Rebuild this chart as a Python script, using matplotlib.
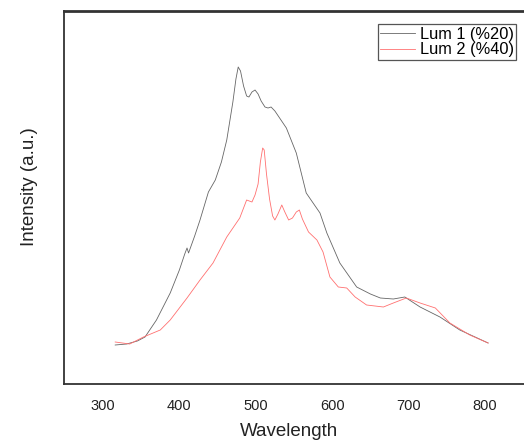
import matplotlib; matplotlib.use("Agg"); import matplotlib.pyplot as plt

# emission spectra (intensity in arbitrary units)
wl_1 = [316, 331, 345, 355, 370, 388, 400, 407, 410, 412, 420, 427, 438, 447,
        455, 462, 470, 474, 477, 480, 484, 488, 491, 495, 499, 503, 507, 512,
        516, 520, 525, 540, 553, 566, 575, 584, 593, 610, 632, 650, 663, 680,
        695, 715, 741, 767, 804]
int_1 = [39, 40, 43, 47, 64, 91, 114, 130, 136, 131, 148, 164, 192, 204,
         222, 244, 282, 305, 317, 313, 298, 288, 287, 292, 294, 290, 283, 277,
         276, 277, 273, 256, 231, 191, 181, 171, 151, 121, 97, 90, 86, 85,
         87, 77, 67, 54, 41]

wl_2 = [316, 335, 353, 375, 388, 400, 410, 427, 444, 462, 479, 488, 495, 499,
        503, 506, 509, 511, 514, 518, 522, 525, 529, 534, 538, 543, 548, 553,
        557, 561, 569, 580, 588, 597, 608, 619, 630, 645, 667, 680, 697, 715,
        735, 754, 780, 804]
int_2 = [42, 40, 47, 54, 64, 76, 86, 104, 121, 147, 166, 184, 182, 189,
         200, 222, 236, 234, 210, 185, 168, 164, 170, 179, 172, 164, 166, 172,
         174, 165, 152, 144, 132, 107, 97, 96, 87, 79, 77, 81, 86, 81,
         76, 61, 49, 41]

fig = plt.figure(figsize=(5.24, 4.44), dpi=100)
plt.rcParams['font.family'] = ['Liberation Sans', 'DejaVu Sans']
ax = fig.add_axes([64 / 524, 60 / 444, 460 / 524, 373 / 444])

ax.plot(wl_1, int_1, color="#666666", lw=0.6, label="Lum 1 (%20)")
ax.plot(wl_2, int_2, color="#ff7070", lw=0.6, label="Lum 2 (%40)")

ax.set_xlim(249, 851)
ax.set_ylim(0, 373)
ax.set_xticks([300, 400, 500, 600, 700, 800])
ax.set_yticks([])
ax.tick_params(axis="x", length=0, pad=11, labelsize=10.5, colors="#222222")
for s in ("left", "bottom"):
    ax.spines[s].set_linewidth(1.3)
    ax.spines[s].set_color("#333333")
ax.spines["top"].set_linewidth(2.0)
ax.spines["top"].set_color("#333333")
ax.spines["right"].set_visible(False)

ax.set_xlabel("Wavelength", fontsize=13.5, color="#222222")
ax.set_ylabel("Intensity (a.u.)", fontsize=13.5, color="#222222")
ax.xaxis.set_label_coords(0.49, -0.105)
ax.yaxis.set_label_coords(-0.056, 0.53)

leg = ax.legend(loc="upper right", bbox_to_anchor=(0.983, 0.965), borderaxespad=0,
                fontsize=11.8, handlelength=2.1, handletextpad=0.3, labelspacing=0.05,
                borderpad=0.15, fancybox=False, framealpha=1)
leg.get_frame().set_edgecolor("#555555")
leg.get_frame().set_linewidth(0.9)

fig.savefig("out.png", dpi=100)
